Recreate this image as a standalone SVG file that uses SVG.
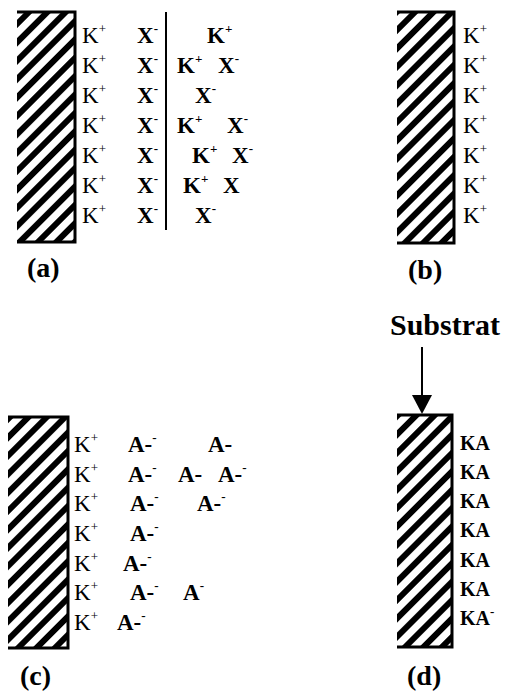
<svg xmlns="http://www.w3.org/2000/svg" width="506" height="692" viewBox="0 0 506 692">
<style>
text{font-family:"Liberation Serif","Times New Roman",serif;font-size:23px;fill:#000}
.b{font-weight:bold}
.s{font-size:13px}
.lbl{font-weight:bold;font-size:28px}
.sub{font-weight:bold;font-size:30px}
.ka{font-weight:bold;font-size:20px}
.edge{fill:none;stroke:#000;stroke-width:3}
.sep{fill:none;stroke:#000;stroke-width:2}
</style>
<defs>
<pattern id="h" width="13" height="13" patternUnits="userSpaceOnUse" patternTransform="rotate(45)">
<rect width="6" height="13" fill="#000"/>
</pattern>
</defs>
<g id="panel-a">
<rect x="17" y="12" width="58" height="230" fill="url(#h)"/>
<path class="edge" d="M17 12H75V242H17"/>
<line class="sep" x1="166" y1="12" x2="166" y2="230"/>
<text x="82" y="43">K<tspan class="s" dy="-10">+</tspan></text>
<text x="82" y="73">K<tspan class="s" dy="-10">+</tspan></text>
<text x="82" y="103">K<tspan class="s" dy="-10">+</tspan></text>
<text x="82" y="133">K<tspan class="s" dy="-10">+</tspan></text>
<text x="82" y="163">K<tspan class="s" dy="-10">+</tspan></text>
<text x="82" y="193">K<tspan class="s" dy="-10">+</tspan></text>
<text x="82" y="223">K<tspan class="s" dy="-10">+</tspan></text>
<text class="b" x="137" y="43">X<tspan class="s" dy="-10">-</tspan></text>
<text class="b" x="137" y="73">X<tspan class="s" dy="-10">-</tspan></text>
<text class="b" x="137" y="103">X<tspan class="s" dy="-10">-</tspan></text>
<text class="b" x="137" y="133">X<tspan class="s" dy="-10">-</tspan></text>
<text class="b" x="137" y="163">X<tspan class="s" dy="-10">-</tspan></text>
<text class="b" x="137" y="193">X<tspan class="s" dy="-10">-</tspan></text>
<text class="b" x="137" y="223">X<tspan class="s" dy="-10">-</tspan></text>
<text class="b" x="207" y="43">K<tspan class="s" dy="-10">+</tspan></text>
<text class="b" x="177" y="73">K<tspan class="s" dy="-10">+</tspan></text>
<text class="b" x="218" y="73">X<tspan class="s" dy="-10">-</tspan></text>
<text class="b" x="195" y="103">X<tspan class="s" dy="-10">-</tspan></text>
<text class="b" x="177" y="133">K<tspan class="s" dy="-10">+</tspan></text>
<text class="b" x="227" y="133">X<tspan class="s" dy="-10">-</tspan></text>
<text class="b" x="192" y="163">K<tspan class="s" dy="-10">+</tspan></text>
<text class="b" x="232" y="163">X<tspan class="s" dy="-10">-</tspan></text>
<text class="b" x="183" y="193">K<tspan class="s" dy="-10">+</tspan></text>
<text class="b" x="223" y="193">X</text>
<text class="b" x="195" y="223">X<tspan class="s" dy="-10">-</tspan></text>
<text class="lbl" x="27" y="277">(a)</text>
</g>
<g id="panel-b">
<rect x="397" y="12" width="57" height="231" fill="url(#h)"/>
<path class="edge" d="M397 12H454V243H397"/>
<text x="463" y="43">K<tspan class="s" dy="-10">+</tspan></text>
<text x="463" y="73">K<tspan class="s" dy="-10">+</tspan></text>
<text x="463" y="103">K<tspan class="s" dy="-10">+</tspan></text>
<text x="463" y="133">K<tspan class="s" dy="-10">+</tspan></text>
<text x="463" y="163">K<tspan class="s" dy="-10">+</tspan></text>
<text x="463" y="193">K<tspan class="s" dy="-10">+</tspan></text>
<text x="463" y="223">K<tspan class="s" dy="-10">+</tspan></text>
<text class="lbl" x="408" y="279">(b)</text>
</g>
<g id="panel-c">
<rect x="8" y="417" width="60" height="231" fill="url(#h)"/>
<path class="edge" d="M8 417H68V648H8"/>
<text x="74" y="452">K<tspan class="s" dy="-10">+</tspan></text>
<text x="74" y="482">K<tspan class="s" dy="-10">+</tspan></text>
<text x="74" y="511">K<tspan class="s" dy="-10">+</tspan></text>
<text x="74" y="541">K<tspan class="s" dy="-10">+</tspan></text>
<text x="74" y="571">K<tspan class="s" dy="-10">+</tspan></text>
<text x="74" y="600">K<tspan class="s" dy="-10">+</tspan></text>
<text x="74" y="630">K<tspan class="s" dy="-10">+</tspan></text>
<text class="b" x="128" y="452">A-<tspan class="s" dy="-10">-</tspan></text>
<text class="b" x="208" y="452">A-</text>
<text class="b" x="128" y="482">A-<tspan class="s" dy="-10">-</tspan></text>
<text class="b" x="178" y="482">A-</text>
<text class="b" x="218" y="482">A-<tspan class="s" dy="-10">-</tspan></text>
<text class="b" x="130" y="511">A-<tspan class="s" dy="-10">-</tspan></text>
<text class="b" x="197" y="511">A-<tspan class="s" dy="-10">-</tspan></text>
<text class="b" x="130" y="541">A-<tspan class="s" dy="-10">-</tspan></text>
<text class="b" x="123" y="571">A-<tspan class="s" dy="-10">-</tspan></text>
<text class="b" x="130" y="600">A-<tspan class="s" dy="-10">-</tspan></text>
<text class="b" x="183" y="600">A<tspan class="s" dy="-10">-</tspan></text>
<text class="b" x="117" y="630">A-<tspan class="s" dy="-10">-</tspan></text>
<text class="lbl" x="20" y="685">(c)</text>
</g>
<g id="panel-d">
<rect x="397" y="415" width="55" height="232" fill="url(#h)"/>
<path class="edge" d="M397 415H452V647H397"/>
<text class="ka" x="460" y="450">KA</text>
<text class="ka" x="460" y="479">KA</text>
<text class="ka" x="460" y="508">KA</text>
<text class="ka" x="460" y="537">KA</text>
<text class="ka" x="460" y="567">KA</text>
<text class="ka" x="460" y="596">KA</text>
<text class="ka" x="460" y="625">KA<tspan class="s" dy="-9">-</tspan></text>
<text class="lbl" x="407" y="685">(d)</text>
</g>
<g id="substrat">
<text class="sub" x="390" y="335">Substrat</text>
</g>
<g id="connectors">
<line x1="422" y1="347" x2="422" y2="397" stroke="#000" stroke-width="2"/>
<polygon points="412,395 432,395 422,414" fill="#000"/>
</g>
</svg>
